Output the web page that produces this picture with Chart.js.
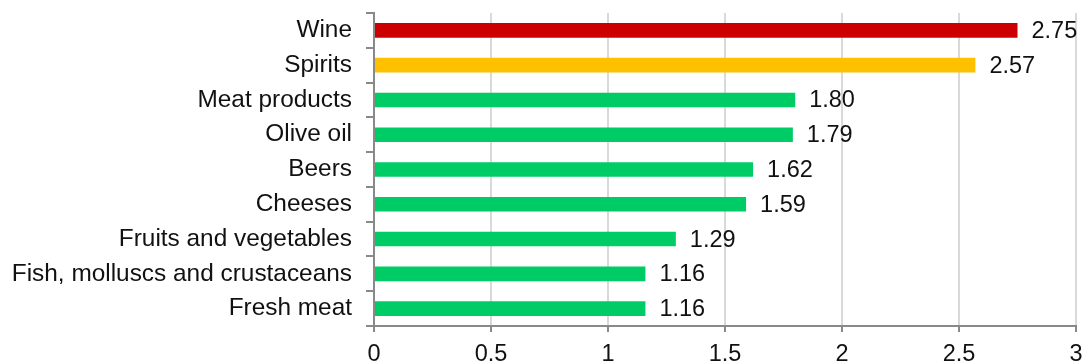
<!DOCTYPE html>
<html>
<head>
<meta charset="utf-8">
<script src="https://cdn.jsdelivr.net/npm/chart.js@4/dist/chart.umd.min.js"></script>
<style>
  html, body { margin: 0; padding: 0; background: #ffffff; }
  #wrap { width: 1085px; height: 364px; position: relative; }
</style>
</head>
<body>
<div id="wrap"><canvas id="chart"></canvas></div>
<script>
// Product categories, top to bottom
const categories = [
  'Wine', 'Spirits', 'Meat products', 'Olive oil', 'Beers', 'Cheeses',
  'Fruits and vegetables', 'Fish, molluscs and crustaceans', 'Fresh meat'
];
// Value for each category
const values = [2.75, 2.57, 1.80, 1.79, 1.62, 1.59, 1.29, 1.16, 1.16];
// Bar colour for each category
const barColors = [
  '#CC0000', '#FFC000', '#00CC66', '#00CC66', '#00CC66',
  '#00CC66', '#00CC66', '#00CC66', '#00CC66'
];
// Horizontal axis tick values
const xTicks = [0, 0.5, 1, 1.5, 2, 2.5, 3];

const FONT = "'Liberation Sans', Arial, sans-serif";
const AXIS = '#898989';
const GRID = '#d9d9d9';
const TEXT = '#111111';

// Writes the value just past the end of each bar
const valueLabels = {
  id: 'valueLabels',
  afterDatasetsDraw(chart) {
    const ctx = chart.ctx;
    const meta = chart.getDatasetMeta(0);
    ctx.save();
    ctx.font = '23.5px ' + FONT;
    ctx.fillStyle = TEXT;
    ctx.textAlign = 'left';
    ctx.textBaseline = 'middle';
    meta.data.forEach((bar, i) => {
      ctx.fillText(values[i].toFixed(2), bar.x + 14, bar.y + 1);
    });
    ctx.restore();
  }
};

// Fixed axis box sizes, with no extra edge padding from tick labels
function fixBox(size) {
  return function (scale) {
    if (scale.isHorizontal()) scale.height = size; else scale.width = size;
    scale.paddingTop = 0;
    scale.paddingBottom = 0;
    scale.paddingLeft = 0;
    scale.paddingRight = 0;
  };
}

new Chart(document.getElementById('chart'), {
  type: 'bar',
  data: {
    labels: categories,
    datasets: [{
      data: values,
      backgroundColor: barColors,
      borderWidth: 0,
      barPercentage: 0.42,
      categoryPercentage: 1.0
    }]
  },
  options: {
    indexAxis: 'y',
    responsive: true,
    maintainAspectRatio: false,
    animation: false,
    layout: { padding: { top: 13, right: 9, left: 0, bottom: 0 } },
    plugins: {
      legend: { display: false },
      tooltip: { enabled: false }
    },
    scales: {
      x: {
        min: 0,
        max: 3,
        afterBuildTicks(scale) {
          scale.ticks = xTicks.map(v => ({ value: v }));
        },
        afterFit: fixBox(38),
        grid: {
          color: GRID,
          lineWidth: 2,
          tickColor: AXIS,
          tickLength: 6,
          drawTicks: true
        },
        border: { color: AXIS, width: 2 },
        ticks: {
          color: TEXT,
          font: { family: FONT, size: 23.5 },
          padding: 8,
          maxRotation: 0,
          callback: v => String(v)
        }
      },
      y: {
        afterFit: fixBox(374),
        grid: {
          offset: true,
          drawOnChartArea: false,
          color: AXIS,
          lineWidth: 2,
          tickLength: 8
        },
        border: { color: AXIS, width: 2 },
        ticks: {
          color: TEXT,
          font: { family: FONT, size: 24.4 },
          padding: 14
        }
      }
    }
  },
  plugins: [valueLabels]
});
</script>
</body>
</html>
